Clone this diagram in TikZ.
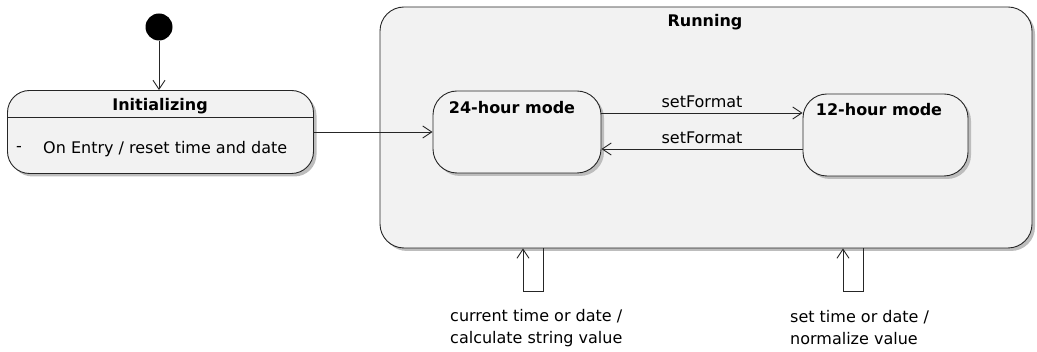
\documentclass[tikz,border=0pt]{standalone}
\usepackage{fontspec}
\setmainfont{DejaVu Sans}
\usetikzlibrary{arrows.meta, shadows, calc}
\definecolor{statefill}{HTML}{F2F2F2}
\definecolor{shadowgray}{HTML}{BDBDBD}

\begin{document}
\begin{tikzpicture}[x=1pt, y=-1pt,
  every node/.style={font=\fontsize{16}{22}\selectfont, inner sep=0pt},
  state/.style={draw=black!85, line width=0.9pt, fill=statefill, rounded corners=24pt,
    drop shadow={shadow xshift=3pt, shadow yshift=-3pt, fill=shadowgray, opacity=1}},
  trans/.style={draw=black!85, line width=0.9pt, -{Straight Barb[length=9pt, width=12pt]}},
  statetitle/.style={font=\fontsize{16}{22}\selectfont\bfseries}]
  \useasboundingbox (0,0) rectangle (1037,352);
  % ---- outer state with its two modes ----
  \node[state, minimum width=652pt, minimum height=241pt] (run) at (706,127.5) {};
  \node[statetitle] (runtitle) at (705,22) {Running};
  \node[state, minimum width=168pt, minimum height=82pt] (h24) at (517,132) {};
  \node[statetitle] (h24title) at (512,108) {24-hour mode};
  \node[state, minimum width=165pt, minimum height=82pt] (h12) at (885.5,135) {};
  \node[statetitle] (h12title) at (879,110) {12-hour mode};
  % ---- initial state ----
  \node[circle, fill=black, minimum size=27pt] (start) at (159,27) {};
  \node[state, rounded corners=22pt, minimum width=306pt, minimum height=83pt] (init) at (160.5,132) {};
  \coordinate (divy) at (0,117);
  \draw[draw=black!85, line width=0.9pt] (init.west |- divy) -- (init.east |- divy);
  \node[statetitle] (inittitle) at (160,106) {Initializing};
  \node[anchor=west] (dash) at (16,149) {-};
  \node[anchor=west] (entry) at (43,149) {On Entry / reset time and date};
  % ---- transitions ----
  \draw[trans] (start) -- (start |- init.north);
  \draw[trans] (init.east) -- (h24.west);
  \draw[trans] ([yshift=19pt]h24.east) -- ([yshift=19pt]h24.east -| h12.west)
    node[pos=0.5, above=5pt] (fmt1) {setFormat};
  \draw[trans] ([yshift=-14pt]h12.west) -- ([yshift=-14pt]h12.west -| h24.east)
    node[pos=0.5, above=5pt] (fmt2) {setFormat};
  % ---- self loops on Running ----
  \draw[trans] ([xshift=-163pt]run.south) -- ++(0,43) -| ([xshift=-183pt]run.south);
  \draw[trans] ([xshift=157pt]run.south) -- ++(0,43) -| ([xshift=137pt]run.south);
  \node[anchor=west, align=left] (loopA) at (450,328) {current time or date /\\calculate string value};
  \node[anchor=west, align=left] (loopB) at (790,328) {set time or date /\\normalize value};
\end{tikzpicture}
\end{document}
